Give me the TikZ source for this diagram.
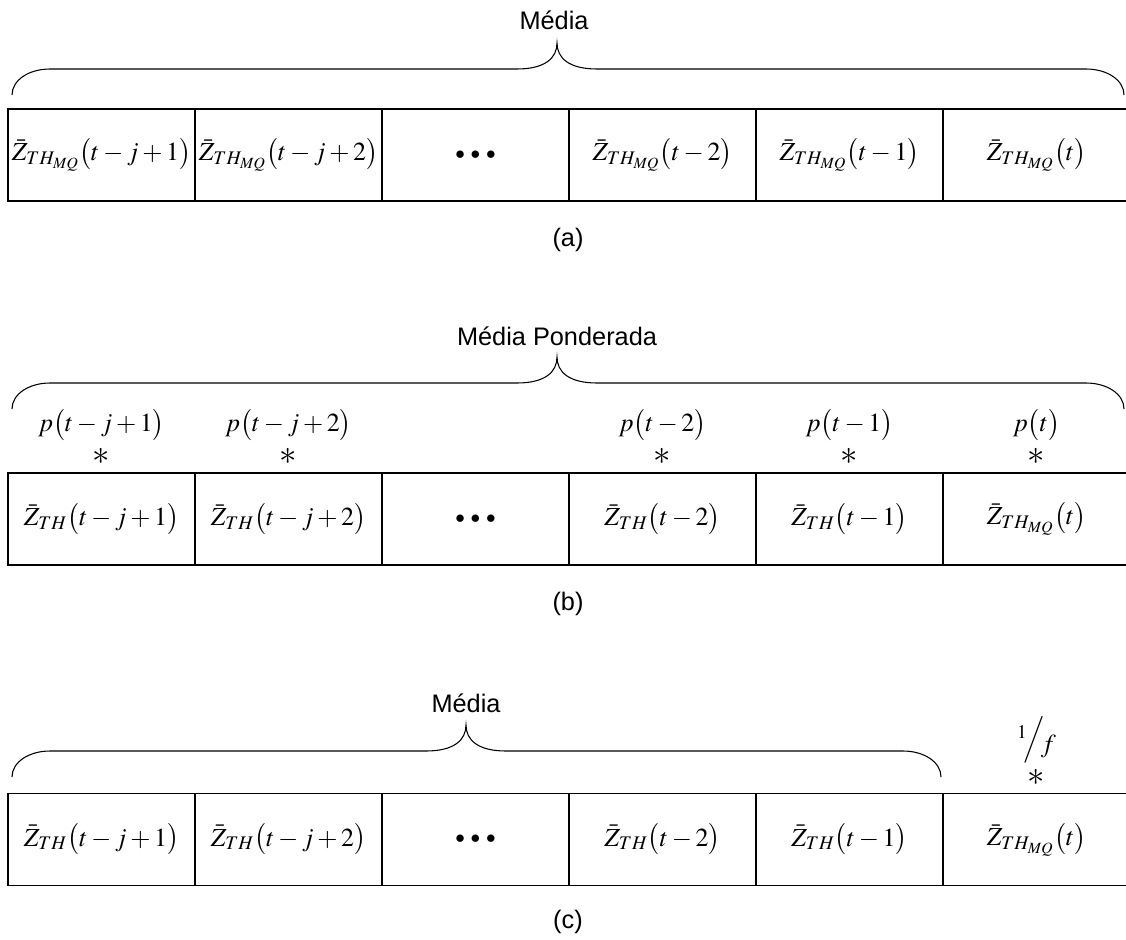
\documentclass[tikz,border=0pt]{standalone}
\usepackage{mathptmx}
\usepackage[no-math]{fontspec}
\newfontfamily\arial{Liberation Sans}
\newcommand{\tdots}{{\scriptstyle\bullet}\;{\scriptstyle\bullet}\;{\scriptstyle\bullet}}
\begin{document}
\begin{tikzpicture}[x=0.75pt,y=-0.75pt,
  cell/.style={draw,line width=0.8pt,minimum width=140.25pt,minimum height=69pt,inner sep=0pt,font=\fontsize{19.5}{22}\selectfont},
  brace/.style={line width=0.8pt},
  lbl/.style={font=\arial\fontsize{19}{22}\selectfont,inner sep=0pt},
  wt/.style={font=\fontsize{19.5}{22}\selectfont,inner sep=0pt},
  star/.style={font=\fontsize{26}{28}\selectfont,inner sep=0pt}]
\useasboundingbox (0,0) rectangle (1126,939);
% ---------- row (a)
\foreach \i/\t in {1/{\bar{Z}_{TH_{MQ}}\bigl(t-j+1\bigr)},2/{\bar{Z}_{TH_{MQ}}\bigl(t-j+2\bigr)},3/{\tdots},4/{\bar{Z}_{TH_{MQ}}\bigl(t-2\bigr)},5/{\bar{Z}_{TH_{MQ}}\bigl(t-1\bigr)},6/{\bar{Z}_{TH_{MQ}}\bigl(t\bigr)}}
  \node[cell] (a\i) at ({8+187*(\i-0.5)},155) {$\t$};
\draw[brace] (12,95) .. controls (12,80) and (29,69) .. (50,69) -- (517,69)
  .. controls (545,69) and (557,58) .. (557,43) coordinate (ca)
  .. controls (557,58) and (569,69) .. (597,69) -- (1086,69)
  .. controls (1107,69) and (1124,80) .. (1124,95);
\node[lbl] (ma) at (554,20) {Média};
\node[lbl] (la) at (568,240) {(a)};
% ---------- row (b)
\foreach \i/\t in {1/{\bar{Z}_{TH}\bigl(t-j+1\bigr)},2/{\bar{Z}_{TH}\bigl(t-j+2\bigr)},3/{\tdots},4/{\bar{Z}_{TH}\bigl(t-2\bigr)},5/{\bar{Z}_{TH}\bigl(t-1\bigr)},6/{\bar{Z}_{TH_{MQ}}\bigl(t\bigr)}}
  \node[cell] (b\i) at ({8+187*(\i-0.5)},519) {$\t$};
\foreach \i/\t in {1/{p\bigl(t-j+1\bigr)},2/{p\bigl(t-j+2\bigr)},4/{p\bigl(t-2\bigr)},5/{p\bigl(t-1\bigr)},6/{p\bigl(t\bigr)}}{
  \node[wt] (pw\i) at ({8+187*(\i-0.5)},425) {$\t$};
  \node[star] (ps\i) at ({8+187*(\i-0.5)},456) {$\ast$};
}
\draw[brace] (12,409) .. controls (12,394) and (29,383) .. (50,383) -- (517,383)
  .. controls (545,383) and (557,372) .. (557,357) coordinate (cb)
  .. controls (557,372) and (569,383) .. (597,383) -- (1086,383)
  .. controls (1107,383) and (1124,394) .. (1124,409);
\node[lbl] (mb) at (557,336) {Média Ponderada};
\node[lbl] (lb) at (568,604) {(b)};
% ---------- row (c)
\foreach \i/\t in {1/{\bar{Z}_{TH}\bigl(t-j+1\bigr)},2/{\bar{Z}_{TH}\bigl(t-j+2\bigr)},3/{\tdots},4/{\bar{Z}_{TH}\bigl(t-2\bigr)},5/{\bar{Z}_{TH}\bigl(t-1\bigr)},6/{\bar{Z}_{TH_{MQ}}\bigl(t\bigr)}}
  \node[cell] (c\i) at ({8+187*(\i-0.5)},839.5) {$\t$};
\node[wt] (fw) at (1036.5,740) {\raisebox{0.75ex}{$\scriptstyle 1$}\kern-0.12em$\Big/$\kern-0.15em\raisebox{-0.55ex}{$f$}};
\node[star] (fs) at (1036.5,777) {$\ast$};
\draw[brace] (12,777) .. controls (12,762) and (29,751) .. (50,751) -- (426,751)
  .. controls (454,751) and (466,740) .. (466,725) coordinate (cc)
  .. controls (466,740) and (478,751) .. (506,751) -- (903,751)
  .. controls (924,751) and (941,762) .. (941,777);
\node[lbl] (mc) at (466,703) {Média};
\node[lbl] (lc) at (568,922) {(c)};
\end{tikzpicture}
\end{document}
